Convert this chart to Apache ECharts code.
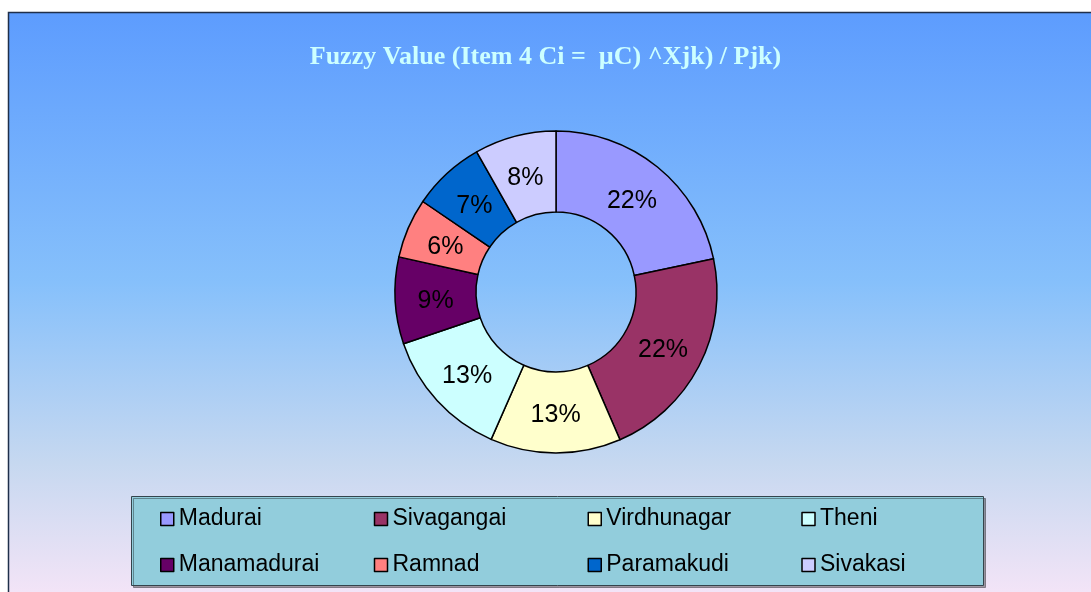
<!DOCTYPE html>
<html><head><meta charset="utf-8">
<script src="https://cdn.jsdelivr.net/npm/echarts@6/dist/echarts.min.js"></script>
<style>html,body{margin:0;padding:0;background:#fff;}#c{width:1091px;height:592px;}</style>
</head><body><div id="c"></div>
<script>
const titleText = 'Fuzzy Value (Item 4 Ci =  \u00B5C) ^Xjk) / Pjk)';
const categories = ['Madurai','Sivagangai','Virdhunagar','Theni','Manamadurai','Ramnad','Paramakudi','Sivakasi'];
const values = [21.7, 21.8, 13.1, 13.2, 8.7, 6.0, 7.3, 8.2];
const colors = ['#9999ff','#993366','#ffffcc','#ccffff','#660066','#ff8080','#0066cc','#ccccff'];

const chart = echarts.init(document.getElementById('c'), null, {renderer:'canvas'});
chart.setOption({
  animation:false,
  graphic:[
    {type:'rect', z:-10, shape:{x:8.5,y:12.5,width:1100,height:600},
     style:{fill:new echarts.graphic.LinearGradient(0,0,0,1,[
       {offset:0,color:'#5d9cfe'},{offset:0.45,color:'#86c0fb'},{offset:0.75,color:'#c6d8f0'},{offset:1,color:'#fae6f8'}]),
       stroke:'#1f2f4a', lineWidth:1.5}},
    {type:'rect', z:-5, shape:{x:131.5,y:496.5,width:852,height:89},
     style:{fill:'#92cddc', stroke:'#34444c', lineWidth:1, shadowColor:'rgba(0,0,0,0.35)', shadowOffsetX:2, shadowOffsetY:2, shadowBlur:0}}
  ],
  title:{text:titleText, left:'center', top:39,
    textStyle:{fontFamily:'Liberation Serif', fontWeight:'bold', fontSize:26, color:'#ccffff'}},
  legend:{
    data:categories, left:160, top:496, width:860, padding:0, orient:'horizontal',
    itemWidth:13, itemHeight:13, itemGap:0, icon:'rect',
    itemStyle:{borderColor:'#000', borderWidth:1.5},
    textStyle:{fontFamily:'Liberation Sans', fontSize:23, color:'#000', width:195, height:46, lineHeight:46},
    selectedMode:false
  },
  series:[{
    type:'pie', center:[556,292], radius:[80,161], startAngle:90, clockwise:true,
    avoidLabelOverlap:false,
    itemStyle:{borderColor:'#000', borderWidth:1.5},
    label:{show:false},
    labelLine:{show:false},
    emphasis:{disabled:true},
    data:categories.map((n,i)=>({name:n, value:values[i], itemStyle:{color:colors[i]}}))
  },{
    type:'pie', center:[556,292], radius:[74,161], startAngle:90, clockwise:true,
    avoidLabelOverlap:false, silent:true, legendHoverLink:false, z:3,
    itemStyle:{color:'rgba(0,0,0,0)', borderWidth:0},
    label:{show:true, position:'inside', offset:[0,3], fontFamily:'Liberation Sans', fontSize:25, color:'#000',
      formatter:p=>Math.round(p.percent)+'%'},
    labelLine:{show:false},
    emphasis:{disabled:true},
    data:categories.map((n,i)=>({name:n, value:values[i]}))
  }]
});
</script></body></html>
